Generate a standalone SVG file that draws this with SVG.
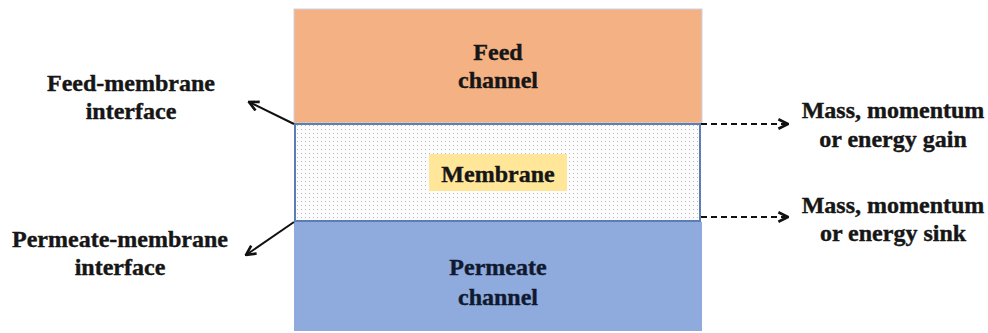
<svg xmlns="http://www.w3.org/2000/svg" width="988" height="333" viewBox="0 0 988 333">
<defs>
<pattern id="dots" width="4" height="4" patternUnits="userSpaceOnUse">
<rect width="4" height="4" fill="#fcfcfc"/>
<circle cx="1.5" cy="1.5" r="0.55" fill="#b0b0b0"/>
</pattern>
<marker id="ah" viewBox="0 0 10 10" refX="9" refY="5" markerWidth="12" markerHeight="12" markerUnits="userSpaceOnUse" orient="auto">
<path d="M1,1 L9,5 L1,9" fill="none" stroke="#111" stroke-width="2.2"/>
</marker>
</defs>
<style>
.t{font-family:"Liberation Serif","Times New Roman",serif;font-weight:bold;font-size:24px;fill:#161616;stroke:#161616;stroke-width:0.4;text-anchor:middle}
.blue{fill:#0f1a30;stroke:#0f1a30}
.conn line{stroke:#111;stroke-width:2}
.dash{stroke-dasharray:6,4}
</style>
<g id="feed">
<rect x="294" y="9" width="408" height="114" fill="#F4B183" stroke="#c9d4e6" stroke-width="1"/>
<text class="t" x="498" y="60">Feed</text>
<text class="t" x="498" y="88">channel</text>
</g>
<g id="membrane">
<rect x="295" y="124" width="405" height="97" fill="url(#dots)" stroke="#5b7fb5" stroke-width="2"/>
<rect x="429" y="154" width="138" height="37" fill="#FFE699"/>
<text class="t" x="498" y="182">Membrane</text>
</g>
<g id="permeate">
<rect x="294" y="222" width="408" height="109" fill="#8FAADC"/>
<text class="t blue" x="498" y="275">Permeate</text>
<text class="t blue" x="498" y="305">channel</text>
</g>
<g id="feed-interface">
<text class="t" x="131" y="91">Feed-membrane</text>
<text class="t" x="131" y="119">interface</text>
</g>
<g id="permeate-interface">
<text class="t" x="120" y="247">Permeate-membrane</text>
<text class="t" x="120" y="275">interface</text>
</g>
<g id="gain">
<text class="t" x="893" y="118">Mass, momentum</text>
<text class="t" x="893" y="147">or energy gain</text>
</g>
<g id="sink">
<text class="t" x="893" y="213">Mass, momentum</text>
<text class="t" x="893" y="241">or energy sink</text>
</g>
<g class="conn" id="connectors">
<line x1="294" y1="124" x2="249" y2="102" marker-end="url(#ah)"/>
<line x1="294" y1="222" x2="246" y2="255" marker-end="url(#ah)"/>
<line class="dash" x1="701" y1="124" x2="788" y2="124" marker-end="url(#ah)"/>
<line class="dash" x1="701" y1="217" x2="788" y2="217" marker-end="url(#ah)"/>
</g>
</svg>
